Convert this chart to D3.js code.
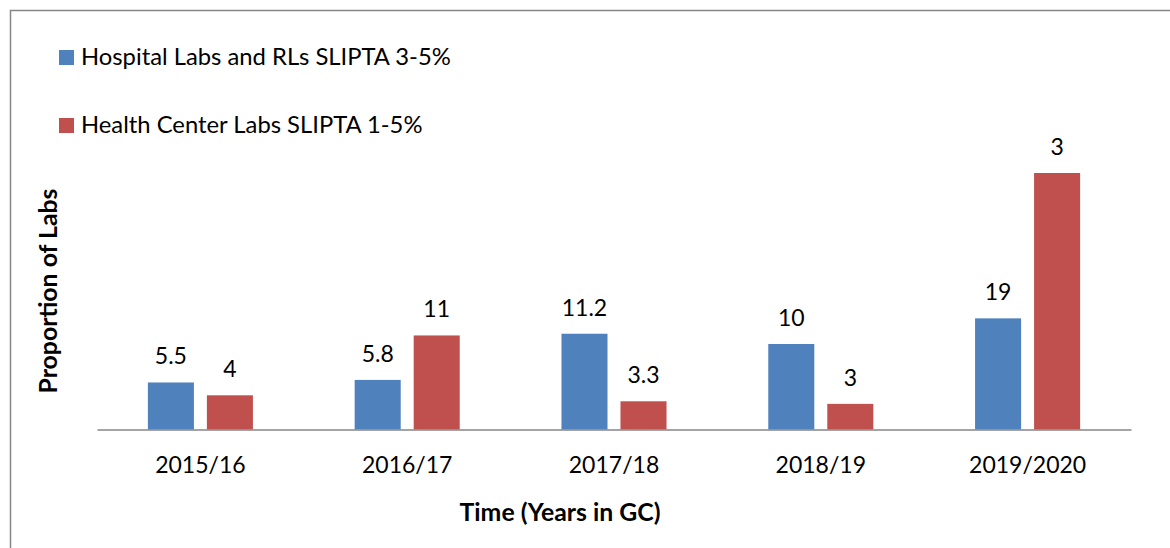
<!DOCTYPE html>
<html>
<head>
<meta charset="utf-8">
<script src="https://cdn.jsdelivr.net/npm/d3@7"></script>
<style>
  html, body { margin: 0; padding: 0; background: #fff; }
  svg { display: block; }
  text { font-family: Lato, "Open Sans", sans-serif; fill: #000; }
</style>
</head>
<body>
<svg id="chart" width="1170" height="548"></svg>
<script>
// ---- data ----
const categories = ["2015/16", "2016/17", "2017/18", "2018/19", "2019/2020"];
const seriesNames = ["Hospital Labs and RLs SLIPTA 3-5%", "Health Center Labs SLIPTA 1-5%"];
const hospitalValues = [5.5, 5.8, 11.2, 10, 13];
const healthCenterValues = [4, 11, 3.3, 3, 30];
const hospitalLabels = ["5.5", "5.8", "11.2", "10", "19"];
const healthCenterLabels = ["4", "11", "3.3", "3", "3"];
const seriesColors = ["#4F81BD", "#C0504D"];
const yDomain = [0, 35];

// ---- layout ----
const svg = d3.select("#chart");
const W = 1170, H = 548;
const plotLeft = 97, plotRight = 1131, baseY = 429.5, plotTop = 130.25;

svg.append("rect").attr("width", W).attr("height", H).attr("fill", "#fff");

// chart frame (top and left visible)
svg.append("path")
  .attr("d", `M10.5,${H} V10.5 H${W}`)
  .attr("fill", "none").attr("stroke", "#868686").attr("stroke-width", 1.5);

const x0 = d3.scaleBand().domain(categories).range([plotLeft, plotRight]).paddingInner(0).paddingOuter(0);
const x1 = d3.scaleBand().domain(seriesNames).range([0, x0.bandwidth()]).paddingInner(0.22).paddingOuter(0.862);
const y = d3.scaleLinear().domain(yDomain).range([baseY, plotTop]);

const rows = categories.map((c, i) => ({
  cat: c,
  vals: [
    { s: seriesNames[0], v: hospitalValues[i], label: hospitalLabels[i], color: seriesColors[0] },
    { s: seriesNames[1], v: healthCenterValues[i], label: healthCenterLabels[i], color: seriesColors[1] }
  ]
}));

const groups = svg.append("g").selectAll("g").data(rows).join("g")
  .attr("transform", d => `translate(${x0(d.cat)},0)`);

groups.selectAll("rect").data(d => d.vals).join("rect")
  .attr("x", d => x1(d.s))
  .attr("width", x1.bandwidth())
  .attr("y", d => y(d.v))
  .attr("height", d => y(0) - y(d.v))
  .attr("fill", d => d.color);

groups.selectAll("text.val").data(d => d.vals).join("text")
  .attr("class", "val")
  .attr("x", d => x1(d.s) + x1.bandwidth() / 2)
  .attr("y", d => y(d.v) - 18)
  .attr("text-anchor", "middle")
  .style("font-size", "23px")
  .text(d => d.label);

// x axis
const xAxis = d3.axisBottom(x0).tickSize(0).tickPadding(0);
const gx = svg.append("g").attr("transform", `translate(0,${baseY})`).call(xAxis);
gx.select(".domain").attr("stroke", "#868686").attr("stroke-width", 1.5);
gx.selectAll(".tick text")
  .attr("dy", null)
  .attr("y", 43.5)
  .style("font-size", "23px")
  .style("font-family", "Lato, sans-serif")
  .attr("fill", "#000");

// axis titles
svg.append("text")
  .attr("x", 560).attr("y", 521)
  .attr("text-anchor", "middle")
  .style("font-size", "24.8px").style("font-weight", "bold")
  .text("Time (Years in GC)");

svg.append("text")
  .attr("transform", "translate(57,291) rotate(-90)")
  .attr("text-anchor", "middle")
  .style("font-size", "24.8px").style("font-weight", "bold")
  .text("Proportion of Labs");

// legend
const legend = svg.append("g").selectAll("g").data(seriesNames).join("g")
  .attr("transform", (d, i) => `translate(59,${65 + i * 68})`);
legend.append("rect")
  .attr("x", 0).attr("y", -15).attr("width", 15).attr("height", 15)
  .attr("fill", (d, i) => seriesColors[i]);
legend.append("text")
  .attr("x", 22).attr("y", 0)
  .style("font-size", "23.8px")
  .text(d => d);
</script>
</body>
</html>
